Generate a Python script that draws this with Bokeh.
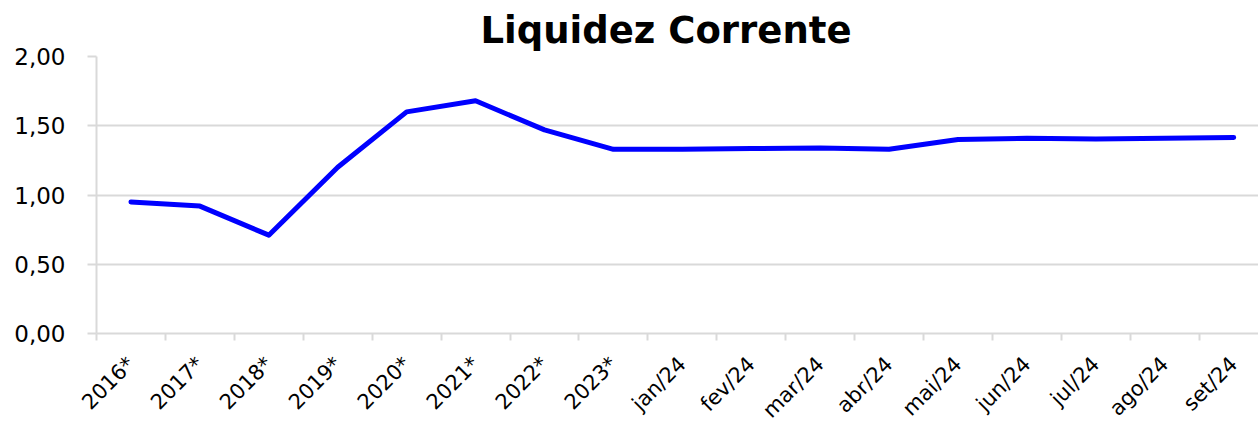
import math
from bokeh.plotting import figure
from bokeh.models import Range1d, FixedTicker, CustomJSTickFormatter, ColumnDataSource
from bokeh.embed import file_html
from bokeh.resources import INLINE

categories = ["2016*", "2017*", "2018*", "2019*", "2020*", "2021*", "2022*", "2023*",
              "jan/24", "fev/24", "mar/24", "abr/24", "mai/24", "jun/24", "jul/24",
              "ago/24", "set/24"]
liquidez = [0.95, 0.92, 0.71, 1.20, 1.60, 1.68, 1.47, 1.33,
            1.33, 1.335, 1.34, 1.33, 1.40, 1.41, 1.405, 1.41, 1.415]
y_ticks = [0.0, 0.5, 1.0, 1.5, 2.0]

xs = [i + 0.5 for i in range(len(categories))]
src = ColumnDataSource(dict(x=xs, y=liquidez, cat=categories))

GRID = "#d9d9d9"
FONT = "DejaVu Sans"

p = figure(width=1258, height=445, output_backend="svg", toolbar_location=None,
           x_range=Range1d(0, 16.86), y_range=Range1d(0, 2.0),
           min_border_left=96, min_border_right=0, min_border_top=56, min_border_bottom=112)
p.outline_line_color = None
p.background_fill_color = "white"
p.border_fill_color = "white"

p.title.text = "Liquidez Corrente"
p.title.align = "left"
p.title.offset = 384
p.title.text_font = FONT
p.title.text_font_size = "37px"
p.title.text_font_style = "bold"
p.title.text_color = "black"

p.line("x", "y", source=src, line_color="#0000ff", line_width=5,
       line_join="round", line_cap="round")

# x axis
xt = FixedTicker(ticks=xs, minor_ticks=list(range(len(categories) + 1)))
p.xaxis.ticker = xt
p.xaxis.major_label_overrides = {x: c for x, c in zip(xs, categories)}
p.xaxis.major_label_orientation = math.pi / 4
p.xaxis.major_label_text_font = FONT
p.xaxis.major_label_text_font_size = "21px"
p.xaxis.major_label_text_color = "black"
p.xaxis.major_tick_line_color = None
p.xaxis.major_tick_out = 0
p.xaxis.major_tick_in = 0
p.xaxis.minor_tick_line_color = GRID
p.xaxis.minor_tick_line_width = 2
p.xaxis.minor_tick_out = 7
p.xaxis.minor_tick_in = 0
p.xaxis.axis_line_color = GRID
p.xaxis.axis_line_width = 2
p.xaxis.major_label_standoff = 20

# y axis
p.yaxis.ticker = FixedTicker(ticks=y_ticks)
p.yaxis.formatter = CustomJSTickFormatter(code="return tick.toFixed(2).replace('.', ',');")
p.yaxis.major_label_text_font = FONT
p.yaxis.major_label_text_font_size = "23px"
p.yaxis.major_label_text_color = "black"
p.yaxis.major_tick_line_color = GRID
p.yaxis.major_tick_line_width = 2
p.yaxis.major_tick_out = 9
p.yaxis.major_tick_in = 0
p.yaxis.minor_tick_line_color = None
p.yaxis.axis_line_color = GRID
p.yaxis.axis_line_width = 2
p.yaxis.major_label_standoff = 22

p.xgrid.visible = False
p.ygrid.ticker = FixedTicker(ticks=y_ticks)
p.ygrid.grid_line_color = GRID
p.ygrid.grid_line_width = 2

open("out.html", "w").write(file_html(p, INLINE))
